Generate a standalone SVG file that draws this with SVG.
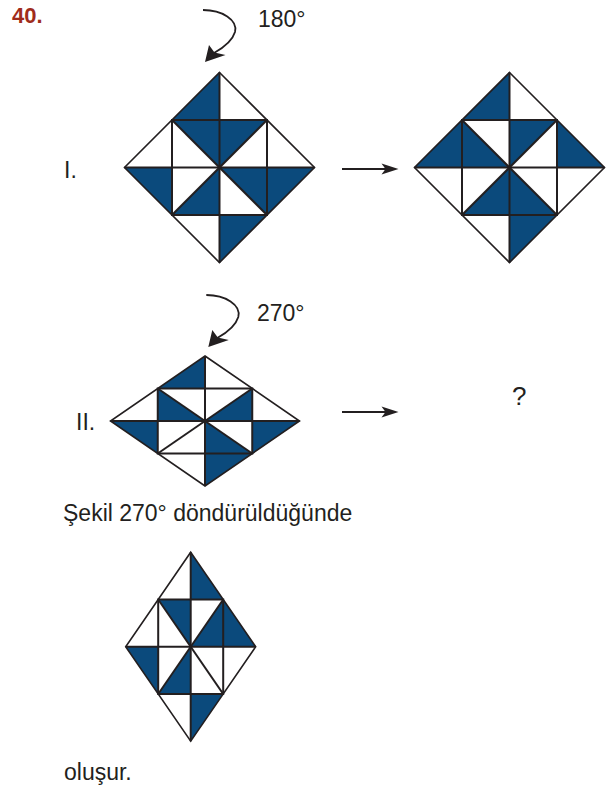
<svg xmlns="http://www.w3.org/2000/svg" xmlns:xlink="http://www.w3.org/1999/xlink" width="615" height="793" viewBox="0 0 615 793">
<style>
  .txt { font-family: "Liberation Sans", Arial, sans-serif; font-size: 23px; fill: #231f20; }
  .q { font-size: 26px; }
  .num { font-family: "Liberation Sans", Arial, sans-serif; font-size: 22px; font-weight: bold; fill: #a02c1c; }
  .b { fill: #0b4a7c; stroke: none; }
  .outer { fill: none; stroke: #231f20; stroke-width: 1.6; stroke-linejoin: miter; vector-effect: non-scaling-stroke; }
  .inner { fill: none; stroke: #231f20; stroke-width: 2; vector-effect: non-scaling-stroke; }
  .conn { fill: none; stroke: #231f20; stroke-width: 1.8; }
  .head { fill: #231f20; stroke: none; }
</style>
<defs>
  <g id="grid">
    <polygon class="outer" points="0,-1 1,0 0,1 -1,0"/>
    <polygon class="inner" points="-0.5,-0.5 0.5,-0.5 0.5,0.5 -0.5,0.5"/>
    <line class="inner" x1="0" y1="-1" x2="0" y2="1"/>
    <line class="inner" x1="-1" y1="0" x2="1" y2="0"/>
    <line class="inner" x1="-0.5" y1="-0.5" x2="0.5" y2="0.5"/>
    <line class="inner" x1="0.5" y1="-0.5" x2="-0.5" y2="0.5"/>
  </g>
  <polygon id="T_L" class="b" points="0,-1 -0.5,-0.5 0,-0.5"/>
  <polygon id="T_R" class="b" points="0,-1 0.5,-0.5 0,-0.5"/>
  <polygon id="R_U" class="b" points="1,0 0.5,-0.5 0.5,0"/>
  <polygon id="R_D" class="b" points="1,0 0.5,0.5 0.5,0"/>
  <polygon id="B_L" class="b" points="0,1 -0.5,0.5 0,0.5"/>
  <polygon id="B_R" class="b" points="0,1 0.5,0.5 0,0.5"/>
  <polygon id="L_U" class="b" points="-1,0 -0.5,-0.5 -0.5,0"/>
  <polygon id="L_D" class="b" points="-1,0 -0.5,0.5 -0.5,0"/>
  <polygon id="TL_up" class="b" points="-0.5,-0.5 0,-0.5 0,0"/>
  <polygon id="TL_lo" class="b" points="-0.5,-0.5 -0.5,0 0,0"/>
  <polygon id="TR_up" class="b" points="0.5,-0.5 0,-0.5 0,0"/>
  <polygon id="TR_lo" class="b" points="0.5,-0.5 0.5,0 0,0"/>
  <polygon id="BR_up" class="b" points="0.5,0.5 0.5,0 0,0"/>
  <polygon id="BR_lo" class="b" points="0.5,0.5 0,0.5 0,0"/>
  <polygon id="BL_up" class="b" points="-0.5,0.5 -0.5,0 0,0"/>
  <polygon id="BL_lo" class="b" points="-0.5,0.5 0,0.5 0,0"/>
  <g id="curl">
    <path class="conn" d="M203,10 C222,10 238,20 235,32 C232,42 223,48 214,53"/>
    <polygon class="head" points="205,62 209,45 214.5,52.5 225.5,55"/>
  </g>
  <g id="rarrow">
    <line class="conn" x1="342" y1="0" x2="388" y2="0"/>
    <polygon class="head" points="398.5,0 381.5,-5.5 385.5,0 381.5,5.5"/>
  </g>
</defs>

<text id="qnum" class="num" x="12" y="23">40.</text>

<g id="label-180">
  <text class="txt" x="258" y="27">180°</text>
</g>
<g id="label-I"><text class="txt" x="64" y="178">I.</text></g>

<g id="fig-I" transform="translate(219.5,167.5) scale(95,95)">
  <use href="#T_L"/><use href="#R_D"/><use href="#B_R"/><use href="#L_D"/>
  <use href="#TL_up"/><use href="#TR_up"/><use href="#BR_up"/><use href="#BL_lo"/>
  <use href="#grid"/>
</g>

<g id="fig-I-rotated" transform="translate(509.5,167.5) scale(95,95)">
  <use href="#T_L"/><use href="#R_U"/><use href="#B_R"/><use href="#L_U"/>
  <use href="#TL_lo"/><use href="#TR_up"/><use href="#BR_lo"/><use href="#BL_lo"/>
  <use href="#grid"/>
</g>

<g id="label-270">
  <text class="txt" x="257" y="321">270°</text>
</g>
<g id="label-II"><text class="txt" x="76" y="430">II.</text></g>

<g id="fig-II" transform="translate(205,421) scale(94.5,65)">
  <use href="#T_L"/><use href="#R_D"/><use href="#B_R"/><use href="#L_D"/>
  <use href="#TL_lo"/><use href="#TR_lo"/><use href="#BR_lo"/>
  <use href="#grid"/>
</g>

<g id="question"><text class="txt q" x="512" y="405">?</text></g>

<g id="caption"><text class="txt" x="63" y="521">Şekil 270° döndürüldüğünde</text></g>

<g id="fig-answer" transform="translate(190.7,646.7) scale(65,94.5)">
  <use href="#T_R"/><use href="#R_U"/><use href="#B_R"/><use href="#L_D"/>
  <use href="#TL_up"/><use href="#TR_lo"/><use href="#BL_lo"/>
  <use href="#grid"/>
</g>

<g id="closing"><text class="txt" x="64" y="780">oluşur.</text></g>

<g id="connectors">
  <use href="#curl"/>
  <use href="#curl" transform="translate(3.3,285)"/>
  <use href="#rarrow" transform="translate(0,169)"/>
  <use href="#rarrow" transform="translate(0,412)"/>
</g>
</svg>
